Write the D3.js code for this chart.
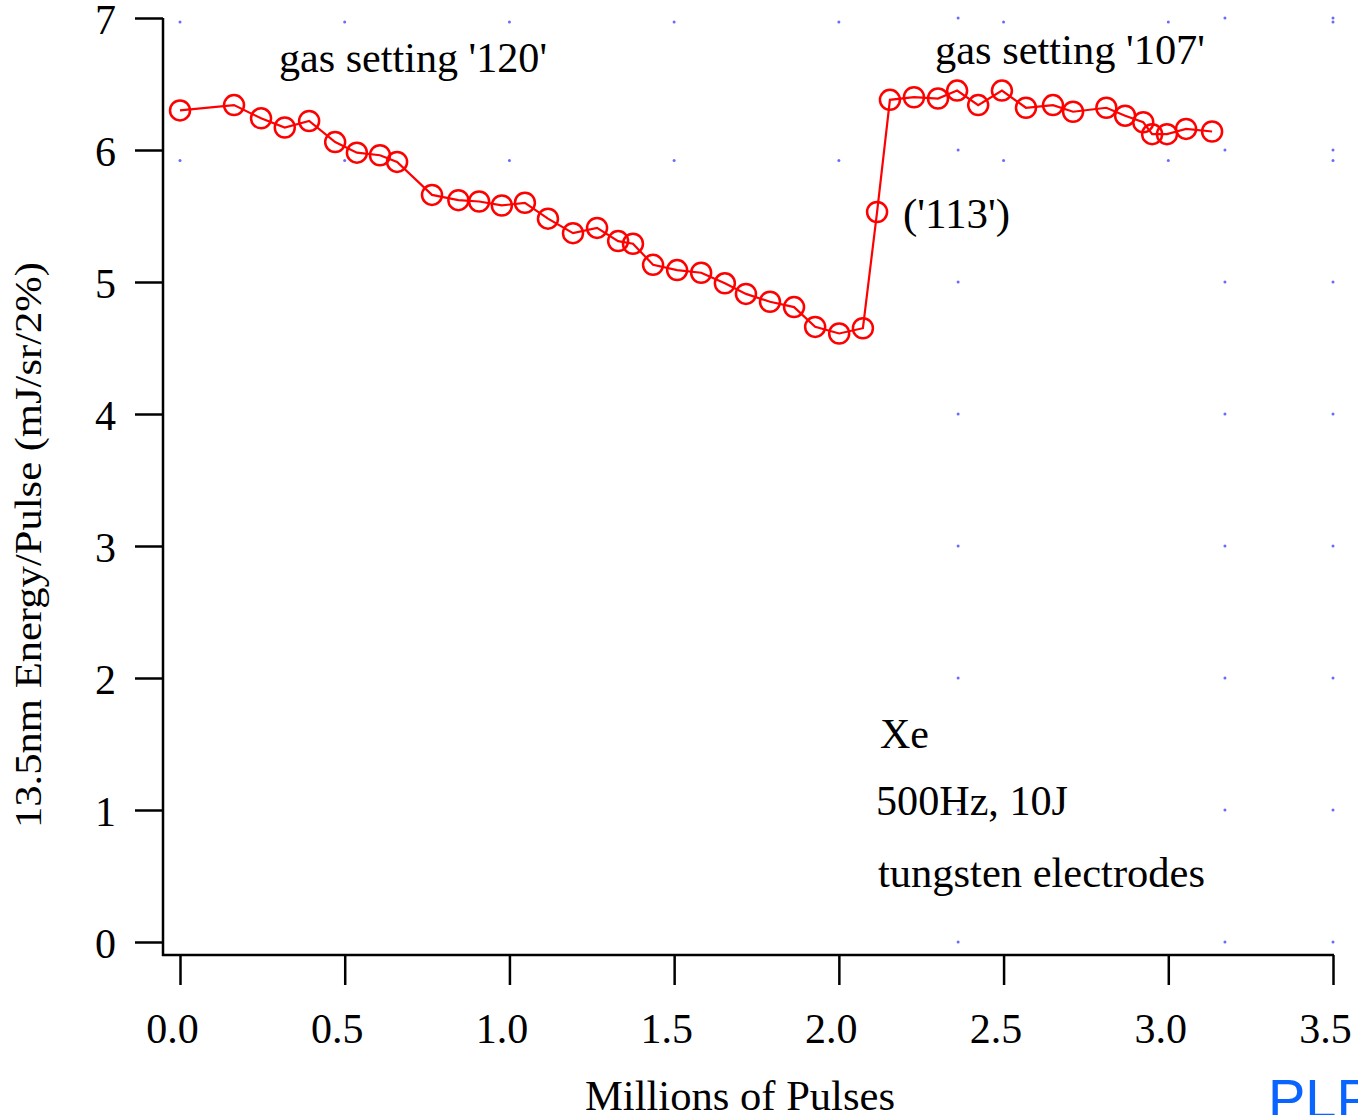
<!DOCTYPE html>
<html>
<head>
<meta charset="utf-8">
<script src="https://cdn.jsdelivr.net/npm/d3@7"></script>
<style>
  body { margin: 0; background: #fff; }
  svg { display: block; font-family: "Liberation Serif", "Times New Roman", serif; }
</style>
</head>
<body>
<div id="chart"></div>
<script>
// Millions of pulses vs 13.5nm energy per pulse
var pulses = [0.0, 0.164, 0.246, 0.318, 0.392, 0.471, 0.537, 0.607, 0.659, 0.765,
  0.845, 0.908, 0.977, 1.047, 1.117, 1.193, 1.266, 1.33, 1.375, 1.436,
  1.509, 1.582, 1.654, 1.718, 1.791, 1.864, 1.928, 2.001, 2.073, 2.116,
  2.155, 2.228, 2.301, 2.359, 2.423, 2.495, 2.568, 2.65, 2.711, 2.812,
  2.869, 2.924, 2.951, 2.996, 3.054, 3.133];
var energy = [6.30, 6.34, 6.24, 6.17, 6.22, 6.06, 5.98, 5.96, 5.91, 5.66,
  5.62, 5.61, 5.58, 5.60, 5.48, 5.37, 5.41, 5.31, 5.29, 5.13,
  5.09, 5.07, 4.99, 4.91, 4.85, 4.81, 4.66, 4.61, 4.65, 5.53,
  6.38, 6.40, 6.39, 6.45, 6.34, 6.45, 6.32, 6.34, 6.29, 6.32,
  6.26, 6.21, 6.12, 6.12, 6.16, 6.14];

var xTicks = [0, 0.5, 1, 1.5, 2, 2.5, 3, 3.5];
var yTicks = [0, 1, 2, 3, 4, 5, 6, 7];

// stray dotted grid left in the original figure
var dotRowsA = [6.97, 5.92];
var dotColsB = [2.362, 3.172, 3.5];

var notes = ["gas setting '120'", "gas setting '107'", "('113')", "Xe", "500Hz, 10J", "tungsten electrodes"];

var svgWidth = 1358;
var svgHeight = 1115;

var svg = d3.select("#chart")
  .append("svg")
  .attr("width", svgWidth)
  .attr("height", svgHeight);

svg.append("rect").attr("width", svgWidth).attr("height", svgHeight).attr("fill", "#fff");

var xScale = d3.scaleLinear().domain([0, 3.5]).range([180, 1333]);
var yScale = d3.scaleLinear().domain([0, 7]).range([942, 18]);

var axisLeftX = 163;
var axisBottomY = 955;

// grid dots
var dots = [];
xTicks.forEach(function(x) {
  dotRowsA.forEach(function(y) { dots.push([x, y]); });
});
dotColsB.forEach(function(x) {
  yTicks.forEach(function(y) { dots.push([x, y]); });
});
svg.append("g")
  .selectAll("circle")
  .data(dots)
  .enter()
  .append("circle")
  .attr("cx", d => xScale(d[0]))
  .attr("cy", d => yScale(d[1]))
  .attr("r", 1.5)
  .attr("fill", "#6a6aff");

// axes
var xAxis = svg.append("g")
  .attr("transform", `translate(0, ${axisBottomY})`)
  .call(d3.axisBottom(xScale).tickValues(xTicks).tickSize(30).tickSizeOuter(0).tickFormat(d3.format(".1f")));

var yAxis = svg.append("g")
  .attr("transform", `translate(${axisLeftX}, 0)`)
  .call(d3.axisLeft(yScale).tickValues(yTicks).tickSize(28).tickSizeOuter(0).tickFormat(d3.format("d")));

[xAxis, yAxis].forEach(function(ax) {
  ax.select(".domain").remove();
  ax.selectAll("line").attr("stroke", "#000").attr("stroke-width", 2.5);
  ax.selectAll("text")
    .attr("fill", "#000")
    .style("font-family", "'Liberation Serif', serif")
    .style("font-size", "42px");
});
xAxis.selectAll("text").attr("x", -8).attr("y", 88).attr("dy", 0);
yAxis.selectAll("text").attr("x", -47).attr("dy", "0.36em");

svg.append("line")
  .attr("x1", axisLeftX).attr("x2", axisLeftX)
  .attr("y1", yScale(7)).attr("y2", axisBottomY + 1)
  .attr("stroke", "#000").attr("stroke-width", 2.5);
svg.append("line")
  .attr("x1", axisLeftX - 1).attr("x2", xScale(3.5) + 1)
  .attr("y1", axisBottomY).attr("y2", axisBottomY)
  .attr("stroke", "#000").attr("stroke-width", 2.5);

// axis titles
svg.append("text")
  .attr("x", 740)
  .attr("y", 1110)
  .attr("text-anchor", "middle")
  .attr("textLength", 310)
  .attr("lengthAdjust", "spacingAndGlyphs")
  .style("font-size", "43px")
  .text("Millions of Pulses");

svg.append("text")
  .attr("transform", "translate(41, 545) rotate(-90)")
  .attr("text-anchor", "middle")
  .attr("textLength", 566)
  .attr("lengthAdjust", "spacingAndGlyphs")
  .style("font-size", "38px")
  .text("13.5nm Energy/Pulse (mJ/sr/2%)");

// series
var points = pulses.map((p, i) => ({ x: p, y: energy[i] }));

var line = d3.line()
  .x(d => xScale(d.x))
  .y(d => yScale(d.y));

svg.append("path")
  .datum(points)
  .attr("d", line)
  .attr("fill", "none")
  .attr("stroke", "#ff0000")
  .attr("stroke-width", 2.2);

svg.append("g")
  .selectAll("circle")
  .data(points)
  .enter()
  .append("circle")
  .attr("cx", d => xScale(d.x))
  .attr("cy", d => yScale(d.y))
  .attr("r", 10)
  .attr("fill", "none")
  .attr("stroke", "#ff0000")
  .attr("stroke-width", 2.5);

// annotations
var notePos = [[279, 72], [935, 64], [903, 228], [880, 748], [876, 815], [878, 887]];
var noteLen = [268, 270, 107, null, 192, 327];
svg.append("g")
  .selectAll("text")
  .data(notes)
  .enter()
  .append("text")
  .attr("x", (d, i) => notePos[i][0])
  .attr("y", (d, i) => notePos[i][1])
  .attr("textLength", (d, i) => noteLen[i])
  .attr("lengthAdjust", "spacingAndGlyphs")
  .style("font-size", "42px")
  .attr("fill", "#000")
  .text(d => d);

// watermark cut off at the bottom edge
svg.append("text")
  .attr("x", 1268)
  .attr("y", 1118)
  .style("font-family", "'Liberation Sans', Arial, sans-serif")
  .style("font-size", "56px")
  .attr("fill", "#0a64ff")
  .text("PLP");
</script>
</body>
</html>
